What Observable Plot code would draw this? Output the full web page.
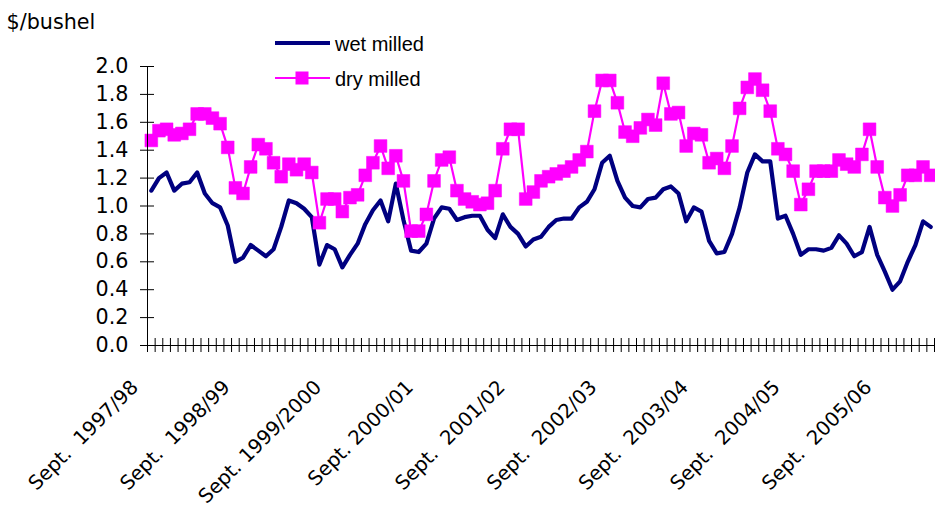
<!DOCTYPE html>
<html><head><meta charset="utf-8">
<script src="https://cdn.jsdelivr.net/npm/d3@7"></script>
<script src="https://cdn.jsdelivr.net/npm/@observablehq/plot@0.6"></script>
<style>
html,body{margin:0;padding:0;background:#fff;}
#chart{position:relative;width:935px;height:508px;overflow:hidden;}
#chart svg text{white-space:pre;}
#legend{position:absolute;left:0;top:0;pointer-events:none;}
</style></head><body><div id="chart"></div>
<script>
// Monthly price, Sept. 1997 - March 2006 ($/bushel)
const wetMilled = [
  1.11,1.20,1.24,1.11,1.16,1.17,1.24,1.09,1.02,0.99,0.86,0.60,
  0.63,0.72,0.68,0.64,0.69,0.85,1.04,1.02,0.98,0.92,0.58,0.72,
  0.69,0.56,0.65,0.73,0.87,0.97,1.04,0.89,1.16,0.90,0.68,0.67,
  0.73,0.91,0.99,0.98,0.90,0.92,0.93,0.93,0.83,0.77,0.94,0.85,
  0.80,0.71,0.76,0.78,0.85,0.90,0.91,0.91,0.99,1.03,1.12,1.31,
  1.36,1.18,1.06,1.00,0.99,1.05,1.06,1.12,1.14,1.09,0.89,0.99,
  0.96,0.75,0.66,0.67,0.80,0.99,1.24,1.37,1.32,1.32,0.91,0.93,
  0.80,0.65,0.69,0.69,0.68,0.70,0.79,0.73,0.64,0.67,0.85,0.65,
  0.53,0.40,0.46,0.60,0.72,0.89,0.85
];
const dryMilled = [
  1.47,1.54,1.55,1.51,1.52,1.55,1.66,1.66,1.63,1.59,1.42,1.13,
  1.09,1.28,1.44,1.41,1.31,1.21,1.30,1.26,1.30,1.24,0.88,1.05,
  1.05,0.96,1.06,1.08,1.22,1.31,1.43,1.27,1.36,1.18,0.82,0.82,
  0.94,1.18,1.33,1.35,1.11,1.05,1.03,1.01,1.02,1.11,1.41,1.55,
  1.55,1.05,1.10,1.18,1.21,1.23,1.25,1.28,1.33,1.39,1.68,1.90,
  1.90,1.74,1.53,1.50,1.56,1.62,1.58,1.88,1.66,1.67,1.43,1.52,
  1.51,1.31,1.34,1.27,1.43,1.70,1.85,1.91,1.83,1.68,1.41,1.37,
  1.25,1.01,1.12,1.25,1.25,1.25,1.33,1.30,1.28,1.37,1.55,1.28,
  1.06,1.00,1.08,1.22,1.22,1.28,1.22
];
const yearLabels = [
  "Sept.  1997/98","Sept.  1998/99","Sept. 1999/2000","Sept. 2000/01",
  "Sept.  2001/02","Sept.  2002/03","Sept.  2003/04","Sept.  2004/05","Sept.  2005/06"
];
const labelEvery = 12;
const yTicks = [0,0.2,0.4,0.6,0.8,1.0,1.2,1.4,1.6,1.8,2.0];
const seriesNames = ["wet milled","dry milled"];
const seriesColors = ["#000080","#FF00FF"];
const yUnit = "$/bushel";

const n = wetMilled.length;
const rows = wetMilled.map((w,i)=>({i, wet:w, dry:dryMilled[i]}));
const labelRows = yearLabels.map((t,k)=>({i:k*labelEvery, t}));
const xDomain = [-0.5, n-0.5];
const boundaries = d3.range(n+1).map(k=>k-0.5);

const font = "'DejaVu Sans', sans-serif";
const fs = 20.7;
const fsX = 19.7;
const plot = Plot.plot({
  width:935, height:508, marginLeft:147, marginRight:1, marginTop:66, marginBottom:163,
  style:{fontFamily:font, fontSize:fs+"px", background:"#fff", overflow:"visible", color:"#000"},
  x:{domain:xDomain, label:null, axis:null},
  y:{domain:[0,2], label:null, axis:null},
  marks:[
    Plot.line(rows,{x:"i",y:"wet",stroke:seriesColors[0],strokeWidth:4.2}),
    Plot.line(rows,{x:"i",y:"dry",stroke:seriesColors[1],strokeWidth:2.2}),
    Plot.dot(rows,{x:"i",y:"dry",symbol:"square",r:7.2,fill:seriesColors[1],stroke:seriesColors[1],strokeWidth:0.5}),
    Plot.ruleX([xDomain[0]],{stroke:"#000",strokeWidth:1}),
    Plot.ruleY([0],{stroke:"#000",strokeWidth:1}),
    Plot.axisY({ticks:yTicks, tickSize:14, dx:7, text:null, label:null}),
    Plot.axisY({ticks:yTicks, tickSize:0, tickPadding:19, tickFormat:d3.format(".1f"), fontSize:fs, label:null}),
    Plot.axisX({ticks:boundaries, tickSize:14, dy:-7, text:null, label:null}),
    Plot.text(labelRows,{x:"i", text:"t", frameAnchor:"bottom", rotate:-45, textAnchor:"end", lineAnchor:"bottom", dx:-12, dy:43, fontSize:fsX}),
    Plot.text([yUnit],{text:d=>d, frameAnchor:"top-left", textAnchor:"start", lineAnchor:"bottom", dx:-141, dy:-38, fontSize:fs})
  ]
});
const chart = document.getElementById("chart");
chart.appendChild(plot);

// legend
const leg = d3.select(chart).append("svg").attr("id","legend").attr("width",935).attr("height",110);
const legY = [43, 78];
seriesNames.forEach((name,k)=>{
  const g = leg.append("g").attr("transform",`translate(0,${legY[k]})`);
  g.append("line").attr("x1",275).attr("x2",330).attr("y1",0).attr("y2",0)
    .attr("stroke",seriesColors[k]).attr("stroke-width",k===0?4.2:2.2);
  if(k===1) g.append("rect").attr("x",295.5).attr("y",-6.5).attr("width",13).attr("height",13).attr("fill",seriesColors[k]);
  g.append("text").attr("x",335).attr("y",8).attr("font-family","'Liberation Sans', Arial, sans-serif")
    .attr("font-size",20).attr("fill","#000").text(name);
});
</script></body></html>
